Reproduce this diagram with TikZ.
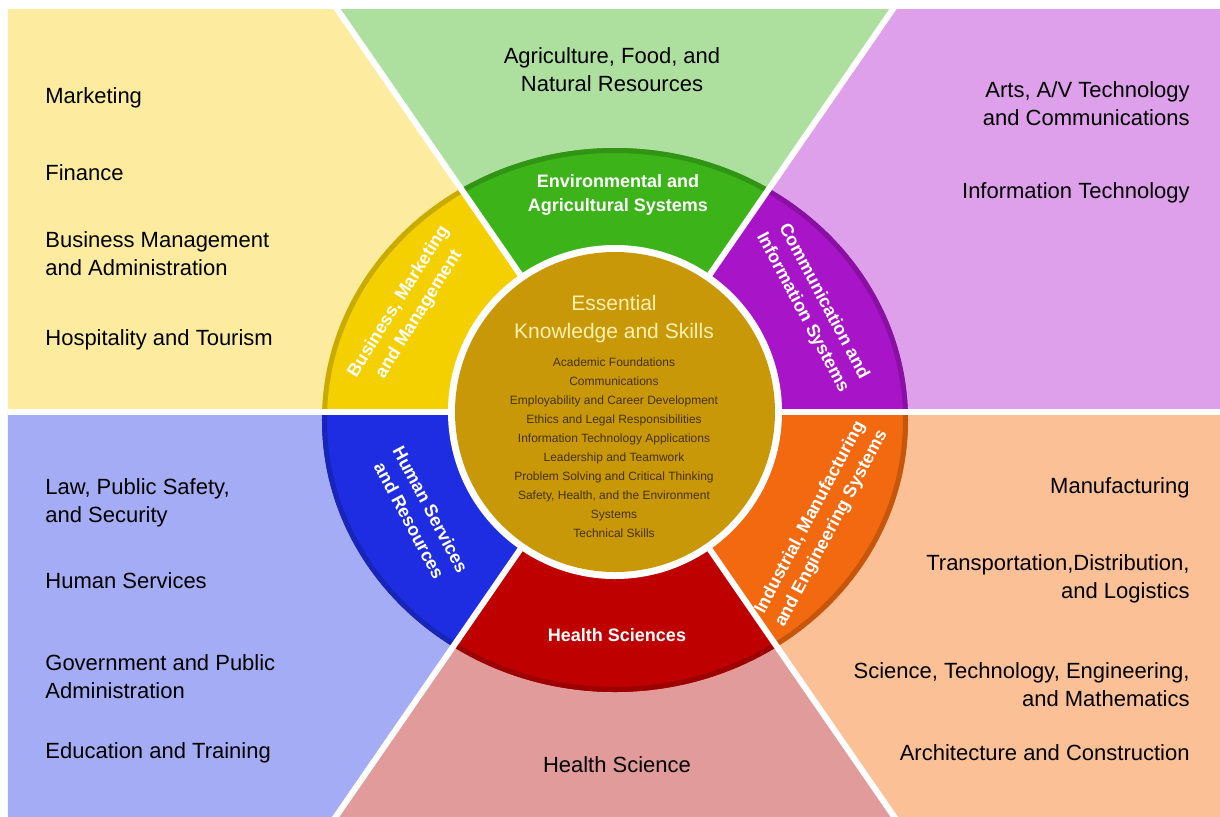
\documentclass[tikz,border=0pt]{standalone}
\usepackage{fontspec}
\setmainfont{Liberation Sans}
\usetikzlibrary{positioning}

% sector colours (light background, strong ring)
\definecolor{bgyellow}{RGB}{253,236,160}
\definecolor{bggreen}{RGB}{173,223,158}
\definecolor{bgpurple}{RGB}{222,160,234}
\definecolor{bgorange}{RGB}{251,192,150}
\definecolor{bgred}{RGB}{226,155,155}
\definecolor{bgblue}{RGB}{164,172,245}
\definecolor{ringyellow}{RGB}{245,208,0}
\definecolor{ringgreen}{RGB}{60,180,25}
\definecolor{ringpurple}{RGB}{168,20,200}
\definecolor{ringorange}{RGB}{242,105,15}
\definecolor{ringred}{RGB}{190,0,0}
\definecolor{ringblue}{RGB}{30,45,225}
\definecolor{coregold}{RGB}{200,152,8}
\definecolor{corecream}{RGB}{255,242,175}
\definecolor{corebrown}{RGB}{70,50,0}

\tikzset{
  pathway/.style={font=\fontsize{11}{14}\selectfont, inner sep=0pt},
  cluster/.style={white, font=\fontsize{9}{12}\selectfont\bfseries, align=center, inner sep=0pt},
  gap/.style={white, line width=3pt},
  rim/.style={line width=2.5pt},
}

\begin{document}
\begin{tikzpicture}[x=0.5pt,y=0.5pt]
    \useasboundingbox (-615,-404) rectangle (605,412);
    \fill[white] (-615,-404) rectangle (605,412);

    % Backgrounds of the six sectors
    \begin{scope}
        \clip (-607,-404) rectangle (605,403);
        \fill[bgpurple] (0,0) -- (0:1200) -- (55.4:1200) -- cycle;
        \fill[bggreen] (0,0) -- (55.4:1200) -- (124.6:1200) -- cycle;
        \fill[bgyellow] (0,0) -- (124.6:1200) -- (180:1200) -- cycle;
        \fill[bgblue] (0,0) -- (180:1200) -- (235.4:1200) -- cycle;
        \fill[bgred] (0,0) -- (235.4:1200) -- (304.6:1200) -- cycle;
        \fill[bgorange] (0,0) -- (304.6:1200) -- (360:1200) -- cycle;
    \end{scope}

    % Ring segments
    \begin{scope}
        \clip (0,0) -- (0:1200) -- (55.4:1200) -- cycle;
        \fill[ringpurple] (0,-8) ellipse [x radius=293, y radius=272];
        \draw[rim, ringpurple!82!black] (0,-8) ellipse [x radius=290.5, y radius=269.5];
    \end{scope}
    \begin{scope}
        \clip (0,0) -- (55.4:1200) -- (124.6:1200) -- cycle;
        \fill[ringgreen] (0,-8) ellipse [x radius=293, y radius=272];
        \draw[rim, ringgreen!82!black] (0,-8) ellipse [x radius=290.5, y radius=269.5];
    \end{scope}
    \begin{scope}
        \clip (0,0) -- (124.6:1200) -- (180:1200) -- cycle;
        \fill[ringyellow] (0,-8) ellipse [x radius=293, y radius=272];
        \draw[rim, ringyellow!82!black] (0,-8) ellipse [x radius=290.5, y radius=269.5];
    \end{scope}
    \begin{scope}
        \clip (0,0) -- (180:1200) -- (235.4:1200) -- cycle;
        \fill[ringblue] (0,-8) ellipse [x radius=293, y radius=272];
        \draw[rim, ringblue!82!black] (0,-8) ellipse [x radius=290.5, y radius=269.5];
    \end{scope}
    \begin{scope}
        \clip (0,0) -- (235.4:1200) -- (304.6:1200) -- cycle;
        \fill[ringred] (0,-8) ellipse [x radius=293, y radius=272];
        \draw[rim, ringred!82!black] (0,-8) ellipse [x radius=290.5, y radius=269.5];
    \end{scope}
    \begin{scope}
        \clip (0,0) -- (304.6:1200) -- (360:1200) -- cycle;
        \fill[ringorange] (0,-8) ellipse [x radius=293, y radius=272];
        \draw[rim, ringorange!82!black] (0,-8) ellipse [x radius=290.5, y radius=269.5];
    \end{scope}

    % White gaps between the sectors
    \begin{scope}
        \clip (-607,-404) rectangle (605,403);
        \draw[gap] (-607,0) -- (605,0);
        \draw[gap] (0,0) -- (55.4:1200);
        \draw[gap] (0,0) -- (124.6:1200);
        \draw[gap] (0,0) -- (235.4:1200);
        \draw[gap] (0,0) -- (304.6:1200);
    \end{scope}

    % Core circle
    \fill[white] (0,0) circle (167);
    \fill[coregold] (0,0) circle (160);
    \node[corecream, font=\fontsize{10.5}{14}\selectfont, align=center, inner sep=0pt] (ekstitle) at (-1,93)
        {Essential\\Knowledge and Skills};
    \node[corebrown, font=\fontsize{6}{9.5}\selectfont, align=center, inner sep=0pt] (ekslist) at (-1,-36)
        {Academic Foundations\\Communications\\Employability and Career Development\\
         Ethics and Legal Responsibilities\\Information Technology Applications\\
         Leadership and Teamwork\\Problem Solving and Critical Thinking\\
         Safety, Health, and the Environment\\Systems\\Technical Skills};

    % Ring labels
    \node[cluster] (envsys) at (3,217) {Environmental and\\Agricultural Systems};
    \node[cluster, rotate=-62] (commsys) at (198,105) {Communication and\\Information Systems};
    \node[cluster, rotate=62] (indsys) at (206,-111) {Industrial, Manufacturing\\and Engineering Systems};
    \node[cluster] (healthsys) at (2,-223) {Health Sciences};
    \node[cluster, rotate=-62] (humansys) at (-195,-103) {Human Services\\and Resources};
    \node[cluster, rotate=58] (bizsys) at (-206,104) {Business, Marketing\\and Management};

    % Pathways, business (upper left)
    \node[pathway, anchor=west] (marketing) at (-570,314) {Marketing};
    \node[pathway, anchor=west] (finance) at (-570,239) {Finance};
    \node[pathway, anchor=west, align=left] (bizmgmt) at (-570,158) {Business Management\\and Administration};
    \node[pathway, anchor=west] (hospitality) at (-570,72) {Hospitality and Tourism};

    % Pathways, human services (lower left)
    \node[pathway, anchor=west, align=left] (law) at (-570,-91) {Law, Public Safety,\\and Security};
    \node[pathway, anchor=west] (humanserv) at (-570,-169) {Human Services};
    \node[pathway, anchor=west, align=left] (govt) at (-570,-265) {Government and Public\\Administration};
    \node[pathway, anchor=west] (education) at (-570,-341) {Education and Training};

    % Pathways, environmental (top) and health (bottom)
    \node[pathway, align=center] (agri) at (-3,342) {Agriculture, Food, and\\Natural Resources};
    \node[pathway] (healthsci) at (2,-353) {Health Science};

    % Pathways, communication (upper right)
    \node[pathway, anchor=east, align=right] (arts) at (575,308) {Arts, A/V Technology\\and Communications};
    \node[pathway, anchor=east] (infotech) at (575,219) {Information Technology};

    % Pathways, industrial (lower right)
    \node[pathway, anchor=east] (manuf) at (575,-76) {Manufacturing};
    \node[pathway, anchor=east, align=right] (transport) at (575,-167) {Transportation,Distribution,\\and Logistics};
    \node[pathway, anchor=east, align=right] (stem) at (575,-273) {Science, Technology, Engineering,\\and Mathematics};
    \node[pathway, anchor=east] (architecture) at (575,-341) {Architecture and Construction};
\end{tikzpicture}
\end{document}
